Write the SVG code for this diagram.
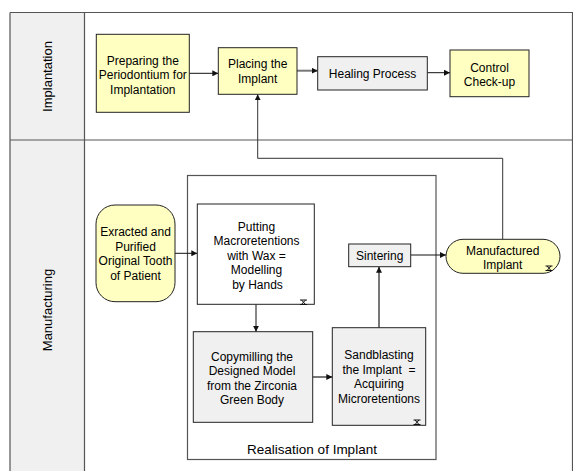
<svg xmlns="http://www.w3.org/2000/svg" width="573" height="471" viewBox="0 0 573 471">
<defs>
<style>
text{font-family:"Liberation Sans",Arial,sans-serif;font-size:12px;fill:#000;text-anchor:middle}
.lane{font-size:13px}
.frame{fill:none;stroke:#555;stroke-width:1.2}
.yel{fill:#FFFFC2;stroke:#222;stroke-width:1}
.gry{fill:#F0F0F0;stroke:#222;stroke-width:1}
.wht{fill:#FFF;stroke:#222;stroke-width:1}
.blk{fill:none;stroke:#111;stroke-width:1;marker-end:url(#ab)}
.gl{fill:none;stroke:#777;stroke-width:2;marker-end:url(#ag)}
.icon{fill:none;stroke:#111;stroke-width:1}
</style>
<marker id="ab" viewBox="0 0 6 6" refX="6" refY="3" markerWidth="6" markerHeight="6" markerUnits="userSpaceOnUse" orient="auto"><path d="M0,0 L6,3 L0,6 z" fill="#111"/></marker>
<marker id="ag" viewBox="0 0 6 6" refX="6" refY="3" markerWidth="6" markerHeight="6" markerUnits="userSpaceOnUse" orient="auto"><path d="M0,0 L6,3 L0,6 z" fill="#111"/></marker>
<path id="ic" d="M0,0.5 H7 M0,5 H7 M1.5,0.5 L5.5,5 M5.5,0.5 L1.5,5"/>
</defs>
<g id="lanes">
<rect x="10" y="12.5" width="74.5" height="465" fill="#F0F0F0" stroke="none"/>
<path class="frame" d="M10,12.5 H572.5 V480 M10,12.5 V480 M84.5,12.5 V480 M10,140 H572.5"/>
<text class="lane" transform="translate(52,76.5) rotate(-90)">Implantation</text>
<text class="lane" transform="translate(52,310) rotate(-90)">Manufacturing</text>
</g>
<g id="realisation">
<rect x="187.5" y="175.5" width="248.5" height="284" fill="none" stroke="#555" stroke-width="1.2"/>
<text x="312" y="454" style="font-size:13.5px">Realisation of Implant</text>
</g>
<g id="connectors">
<line class="blk" x1="189.3" y1="73.3" x2="218.3" y2="73.3"/>
<line class="gl" x1="297" y1="70.7" x2="317.7" y2="70.7"/>
<line class="blk" x1="427.3" y1="72.7" x2="450" y2="72.7"/>
<line class="blk" x1="175" y1="253.3" x2="197.3" y2="253.3"/>
<line class="blk" x1="256" y1="304.3" x2="256" y2="331.7"/>
<line class="gl" x1="312.7" y1="377" x2="332.3" y2="377"/>
<line class="gl" x1="379" y1="327.7" x2="379" y2="266.7"/>
<line class="blk" x1="410.7" y1="255" x2="446" y2="255"/>
<path class="blk" style="stroke:#333" d="M502.7,239.3 V158.3 H257.7 V94.3"/>
</g>
<g id="preparing">
<rect class="yel" x="96.3" y="34.3" width="93" height="78"/>
<text x="142.8" y="65">Preparing the</text>
<text x="142.8" y="79">Periodontium for</text>
<text x="142.8" y="93.5">Implantation</text>
</g>
<g id="placing">
<rect class="yel" x="218.3" y="47.7" width="78.7" height="46.6"/>
<text x="257.7" y="68">Placing the</text>
<text x="257.7" y="83">Implant</text>
</g>
<g id="healing">
<rect class="gry" x="317.7" y="56.7" width="109.6" height="33.3"/>
<text x="372.5" y="77.5">Healing Process</text>
</g>
<g id="control">
<rect class="yel" x="450" y="50" width="79" height="46.7"/>
<text x="489.5" y="71.5">Control</text>
<text x="489.5" y="86">Check-up</text>
</g>
<g id="extracted">
<rect class="yel" x="96" y="205" width="79" height="96.7" rx="19" ry="19"/>
<text x="135.5" y="236">Exracted and</text>
<text x="135.5" y="250.5">Purified</text>
<text x="135.5" y="265">Original Tooth</text>
<text x="135.5" y="279.5">of Patient</text>
</g>
<g id="putting">
<rect class="wht" x="197.3" y="204" width="117" height="100.3"/>
<text x="256.5" y="230.5">Putting</text>
<text x="256.5" y="245">Macroretentions</text>
<text x="256.5" y="259.5">with Wax =</text>
<text x="256.5" y="274">Modelling</text>
<text x="257.5" y="288.5">by Hands</text>
<use href="#ic" class="icon" x="300" y="299.5"/>
</g>
<g id="copymilling">
<rect class="gry" x="193.3" y="331.7" width="119.4" height="90.6"/>
<text x="252" y="360.5">Copymilling the</text>
<text x="252" y="375">Designed Model</text>
<text x="252" y="389.5">from the Zirconia</text>
<text x="252" y="404">Green Body</text>
</g>
<g id="sandblasting">
<rect class="gry" x="332.3" y="327.7" width="93.4" height="97.6"/>
<text x="379" y="359">Sandblasting</text>
<text x="379" y="373.5" xml:space="preserve">the Implant  =</text>
<text x="379" y="388">Acquiring</text>
<text x="379" y="402.5">Microretentions</text>
<use href="#ic" class="icon" x="413.5" y="419.5"/>
</g>
<g id="sintering">
<rect class="gry" x="348.7" y="244" width="62" height="22.7"/>
<text x="379.7" y="259.5">Sintering</text>
</g>
<g id="manufactured">
<rect class="yel" x="446" y="239.3" width="114" height="34" rx="17" ry="17"/>
<text x="502.7" y="254.5">Manufactured</text>
<text x="502.7" y="268.5">Implant</text>
<use href="#ic" class="icon" x="545.5" y="265.5"/>
</g>
</svg>
